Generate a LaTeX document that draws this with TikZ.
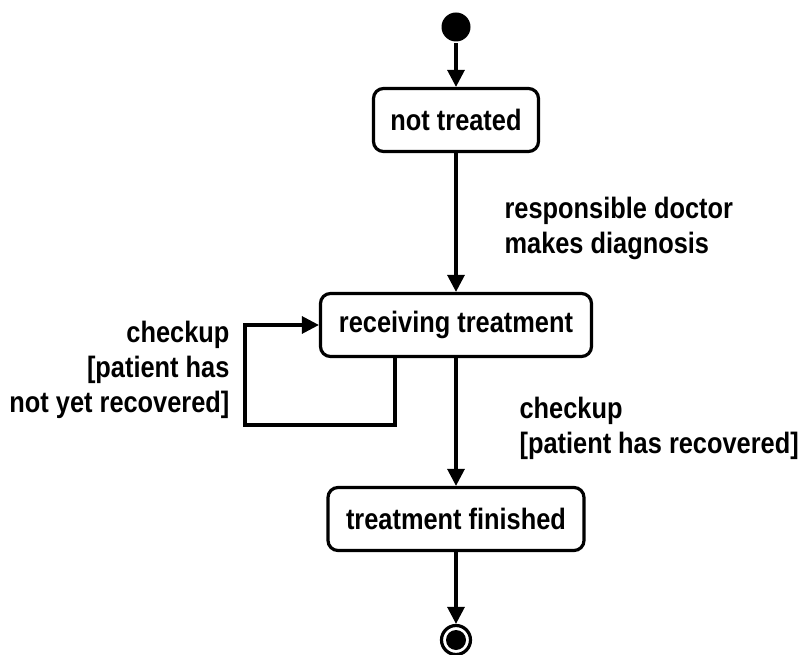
\documentclass[tikz,border=0pt]{standalone}
\usepackage{fontspec}
\setmainfont[FakeStretch=0.86]{Liberation Sans}
\usetikzlibrary{positioning}
\usetikzlibrary{arrows.meta}

\begin{document}
\begin{tikzpicture}[x=1pt, y=-1pt, line width=3.2pt,
  font=\fontsize{29.5}{35}\selectfont\bfseries,
  state/.style={draw, rectangle, rounded corners=10pt, minimum height=63pt, inner sep=0pt},
  arr/.style={-{Triangle[length=17pt, width=17pt]}}]
  \useasboundingbox (0,0) rectangle (801,655);
  \node (init) [circle, fill, minimum size=29pt, inner sep=0pt] at (456,27) {};
  \node (nt) [state, minimum width=165pt] at (456,120) {not treated};
  \node (rt) [state, minimum width=271pt] at (456,325) {receiving treatment};
  \node (tf) [state, minimum width=256pt] at (456,519) {treatment finished};
  \node (fin) [circle, draw, minimum size=29pt, inner sep=0pt] at (456,640) {};
  \node (findot) [circle, fill, minimum size=20pt, inner sep=0pt] at (fin) {};
  % transitions
  \draw[arr] (init) -- (nt);
  \draw[arr] (nt) -- (rt);
  \draw[arr] (rt) -- (tf);
  \draw[arr] (tf) -- (fin);
  \draw[arr] ([xshift=-61pt]rt.south) |- ([xshift=-74pt, yshift=-100pt]rt.west) |- (rt.west);
  % guards
  \node (diag) [anchor=west, align=left, inner sep=0pt] at (503,228) {responsible doctor\\makes diagnosis};
  \node (notyet) [anchor=east, align=right, inner sep=0pt] at (231,370) {checkup\\{[}patient has\\not yet recovered{]}};
  \node (done) [anchor=west, align=left, inner sep=0pt] at (518,428) {checkup\\{[}patient has recovered{]}};
\end{tikzpicture}
\end{document}
